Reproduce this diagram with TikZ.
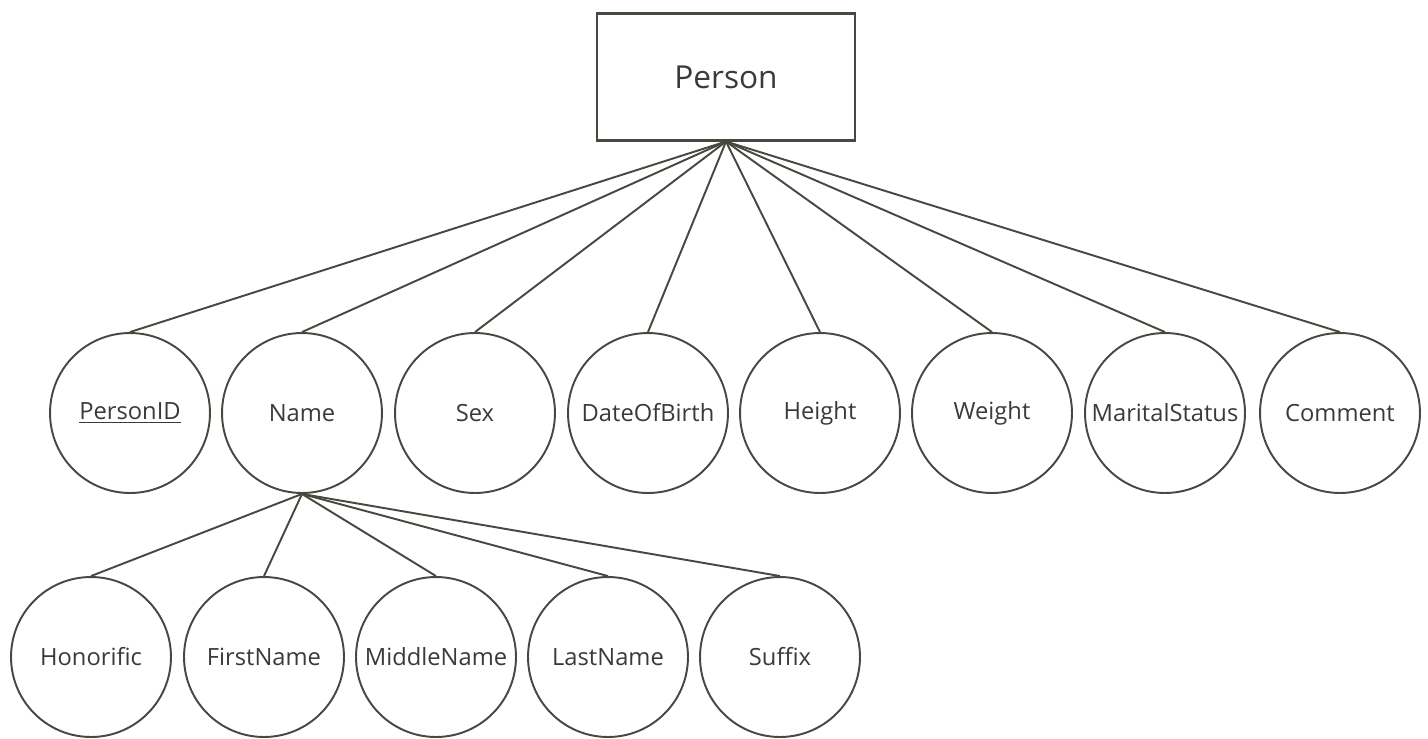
\documentclass[tikz,border=0pt]{standalone}
\usepackage{fontspec}
\setmainfont{Open Sans}
\usetikzlibrary{positioning}
\definecolor{erline}{RGB}{72,72,64}
\definecolor{ertext}{RGB}{58,58,58}

\begin{document}
\begin{tikzpicture}[x=0.02cm, y=-0.02cm,
    entity/.style={draw=erline, line width=1.2pt, minimum width=5.16cm, minimum height=2.54cm,
        font=\fontsize{18}{20}\selectfont, text=ertext},
    attr/.style={draw=erline, circle, line width=1.1pt, minimum size=3.2cm, inner sep=0pt,
        font=\fontsize{13.5}{15}\selectfont, text=ertext},
    link/.style={draw=erline, line width=1.1pt}]
    \useasboundingbox (0, 0) rectangle (1428, 738);

    % Entity
    \node[entity] (person) at (726, 77) {Person};

    % Attributes of Person
    \foreach \x/\name/\label in {130/pid/\underline{PersonID}, 302/name/Name, 475/sex/Sex,
        648/dob/DateOfBirth, 820/height/Height, 992/weight/Weight,
        1165/marital/MaritalStatus, 1340/comment/Comment} {
        \node[attr] (\name) at (\x, 413) {\label};
        \draw[link] (person.south) -- (\name.north);
    }

    % Parts of Name
    \foreach \x/\name/\label in {91/honorific/Honorific, 264/first/FirstName, 436/middle/MiddleName,
        608/last/LastName, 780/suffix/Suffix} {
        \node[attr] (\name) at (\x, 657) {\label};
        \draw[link] (name.south) -- (\name.north);
    }

\end{tikzpicture}
\end{document}
